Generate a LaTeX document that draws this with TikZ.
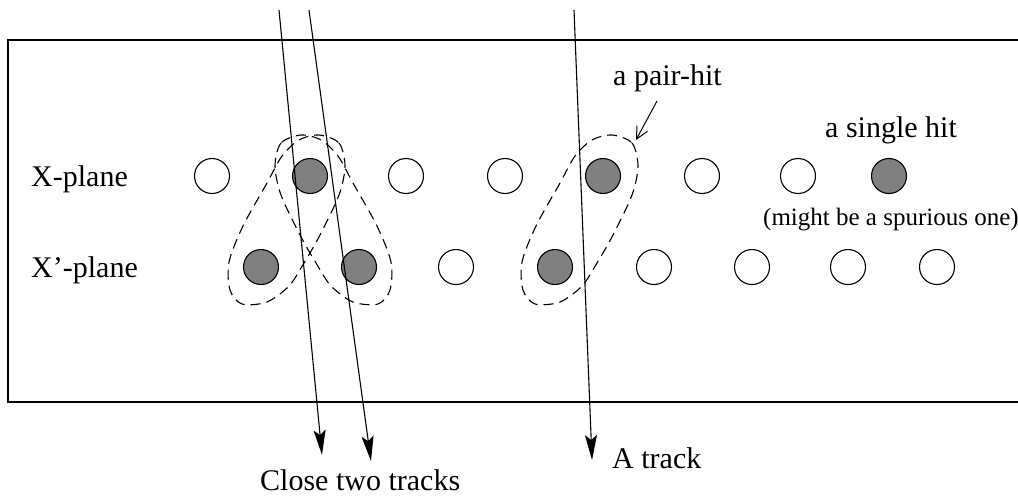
\documentclass[tikz,border=0pt]{standalone}
\usepackage{fontspec}
\setmainfont{Liberation Serif}
\usetikzlibrary{arrows.meta}
\begin{document}
\begin{tikzpicture}[x=1pt,y=-1pt,
  hit/.style={circle,draw,line width=1.1pt,minimum size=35pt,inner sep=0pt},
  hiton/.style={hit,fill=black!50},
  lbl/.style={inner sep=0pt,anchor=base west,font=\fontsize{30}{36}\selectfont},
  lblsmall/.style={inner sep=0pt,anchor=base west,font=\fontsize{25}{30}\selectfont},
  track/.style={line width=1.1pt,-{Stealth[length=25pt,width=12pt,inset=5pt]}},
  pairloop/.style={dash pattern=on 10pt off 6pt,line width=1.1pt},
  frame/.style={line width=1.1pt}
]
\useasboundingbox (0,0) rectangle (1018,496);
% frame
\draw[frame] (1030,40) -- (8,40) -- (8,402) -- (1030,402);
% X-plane hits
\node[hit]   (x1) at (212,176) {};
\node[hiton] (x2) at (310,176) {};
\node[hit]   (x3) at (406,176) {};
\node[hit]   (x4) at (505,176) {};
\node[hiton] (x5) at (603,176) {};
\node[hit]   (x6) at (702,176) {};
\node[hit]   (x7) at (798,176) {};
\node[hiton] (x8) at (889,176) {};
% X'-plane hits
\node[hiton] (y1) at (261,267) {};
\node[hiton] (y2) at (359,267) {};
\node[hit]   (y3) at (456,267) {};
\node[hiton] (y4) at (555,267) {};
\node[hit]   (y5) at (654,267) {};
\node[hit]   (y6) at (752,267) {};
\node[hit]   (y7) at (848,267) {};
\node[hit]   (y8) at (937,267) {};
% pair loops
\def\pairpath{plot[smooth cycle] coordinates {(612,135) (632,143) (638,166) (632,195) (613,235) (597,263) (582,286) (560,302) (535,304) (523,290) (522,262) (536,226) (560,183) (575,156) (592,140)}}
\draw[pairloop] \pairpath;
\begin{scope}[xshift=-293pt]
  \draw[pairloop] \pairpath;
\end{scope}
\begin{scope}[xshift=913pt,xscale=-1]
  \draw[pairloop] \pairpath;
\end{scope}
% tracks
\coordinate (t1a) at (279,10);  \coordinate (t1b) at (322,455);
\coordinate (t2a) at (309,10);  \coordinate (t2b) at (371,461);
\coordinate (t3a) at (574,10);  \coordinate (t3b) at (592,460);
\draw[track] (t1a) -- (t1b);
\draw[track] (t2a) -- (t2b);
\draw[track] (t3a) -- (t3b);
% labels
\node[lbl] (lx)  at (31,186) {X-plane};
\node[lbl] (lxp) at (31,277) {X’-plane};
\node[lbl] (lpair) at (613,85) {a pair-hit};
\node[lbl] (lsingle) at (825,137) {a single hit};
\node[lblsmall] (lspur) at (763,225) {(might be a spurious one)};
\node[lbl] (ltrack) at (612,468) {A track};
\node[lbl] (lclose) at (260,490) {Close two tracks};
% pair-hit pointer
\coordinate (pa) at (657,101);
\coordinate (pb) at (636,140);
\draw[line width=1pt,-{Straight Barb[length=12pt,width=12pt]}] (pa) -- (pb);
\end{tikzpicture}
\end{document}
